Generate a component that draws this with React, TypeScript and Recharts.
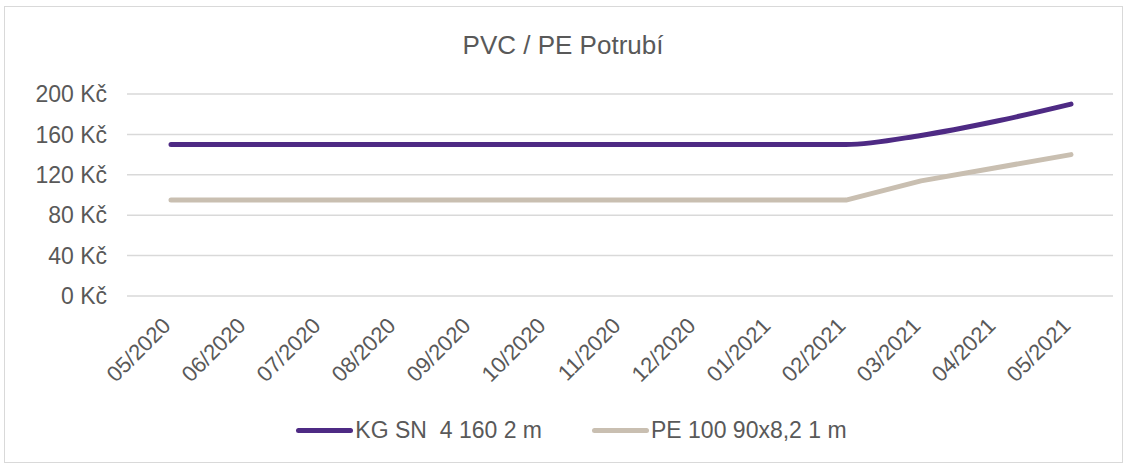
import React from 'react';
import { LineChart, Line, XAxis, YAxis, CartesianGrid, Legend } from 'recharts';

const months = [
  '05/2020', '06/2020', '07/2020', '08/2020', '09/2020', '10/2020', '11/2020',
  '12/2020', '01/2021', '02/2021', '03/2021', '04/2021', '05/2021'
];
const kgSn = [150, 150, 150, 150, 150, 150, 150, 150, 150, 150, 159, 173, 190];
const pe100 = [95, 95, 95, 95, 95, 95, 95, 95, 95, 95, 114, 127, 140];
const yTicks = [0, 40, 80, 120, 160, 200];

const series = [
  { key: 'kg', name: 'KG SN  4 160 2 m', color: '#4E2A84', curve: 'monotone' },
  { key: 'pe', name: 'PE 100 90x8,2 1 m', color: '#C9BFB1', curve: 'linear' }
];

const data = months.map((m, i) => ({ month: m, kg: kgSn[i], pe: pe100[i] }));

const textColor = '#595959';
const font = '"Liberation Sans", Arial, sans-serif';

const MonthTick = (props: any) => {
  const { x, y, payload } = props;
  const ax = x + 1;
  const ay = y + 23;
  return (
    <text
      x={ax}
      y={ay}
      transform={`rotate(-45, ${ax}, ${ay})`}
      textAnchor="end"
      fill={textColor}
      fontSize={22}
      fontFamily={font}
    >
      {payload.value}
    </text>
  );
};

const LegendContent = () => (
  <div style={{ display: 'flex', justifyContent: 'center', height: 30, alignItems: 'center', paddingLeft: 20, fontFamily: font, fontSize: 23, color: textColor }}>
    {series.map((s, i) => (
      <div key={s.key} style={{ display: 'flex', alignItems: 'center', marginLeft: i ? 50 : 0 }}>
        <div style={{ width: 57, height: 5, borderRadius: 3, background: s.color, marginRight: 2 }} />
        <span style={{ whiteSpace: 'pre' }}>{s.name}</span>
      </div>
    ))}
  </div>
);

export default function App() {
  return (
    <div style={{ position: 'relative', width: 1126, height: 466, background: '#fff' }}>
      <style>{`body{margin:0}`}</style>
      <div style={{ position: 'absolute', left: 4, top: 6, width: 1117, height: 455, border: '1px solid #D9D9D9' }} />
      <div style={{ position: 'absolute', left: 0, top: 30, width: 1126, textAlign: 'center', fontFamily: font, fontSize: 26, color: textColor }}>
        PVC / PE Potrubí
      </div>
      <div style={{ position: 'absolute', left: 0, top: 0 }}>
        <LineChart width={1126} height={466} data={data} margin={{ top: 94, right: 13, left: 10, bottom: 21 }}>
          <CartesianGrid vertical={false} stroke="#D9D9D9" strokeWidth={1.5} />
          <XAxis
            dataKey="month"
            axisLine={false}
            tickLine={false}
            interval={0}
            height={119}
            padding={{ left: 44, right: 42 }}
            tick={<MonthTick />}
          />
          <YAxis
            domain={[0, 200]}
            ticks={yTicks}
            width={117}
            axisLine={false}
            tickLine={false}
            tickFormatter={(v: number) => `${v} Kč`}
            tick={{ fill: textColor, fontSize: 23, fontFamily: font, dx: -12 }}
          />
          <Legend verticalAlign="bottom" content={<LegendContent />} />
          {series.map((s) => (
            <Line
              key={s.key}
              type={s.curve as any}
              dataKey={s.key}
              name={s.name}
              stroke={s.color}
              strokeWidth={5}
              strokeLinecap="round"
              strokeLinejoin="round"
              dot={false}
              isAnimationActive={false}
            />
          ))}
        </LineChart>
      </div>
    </div>
  );
}
